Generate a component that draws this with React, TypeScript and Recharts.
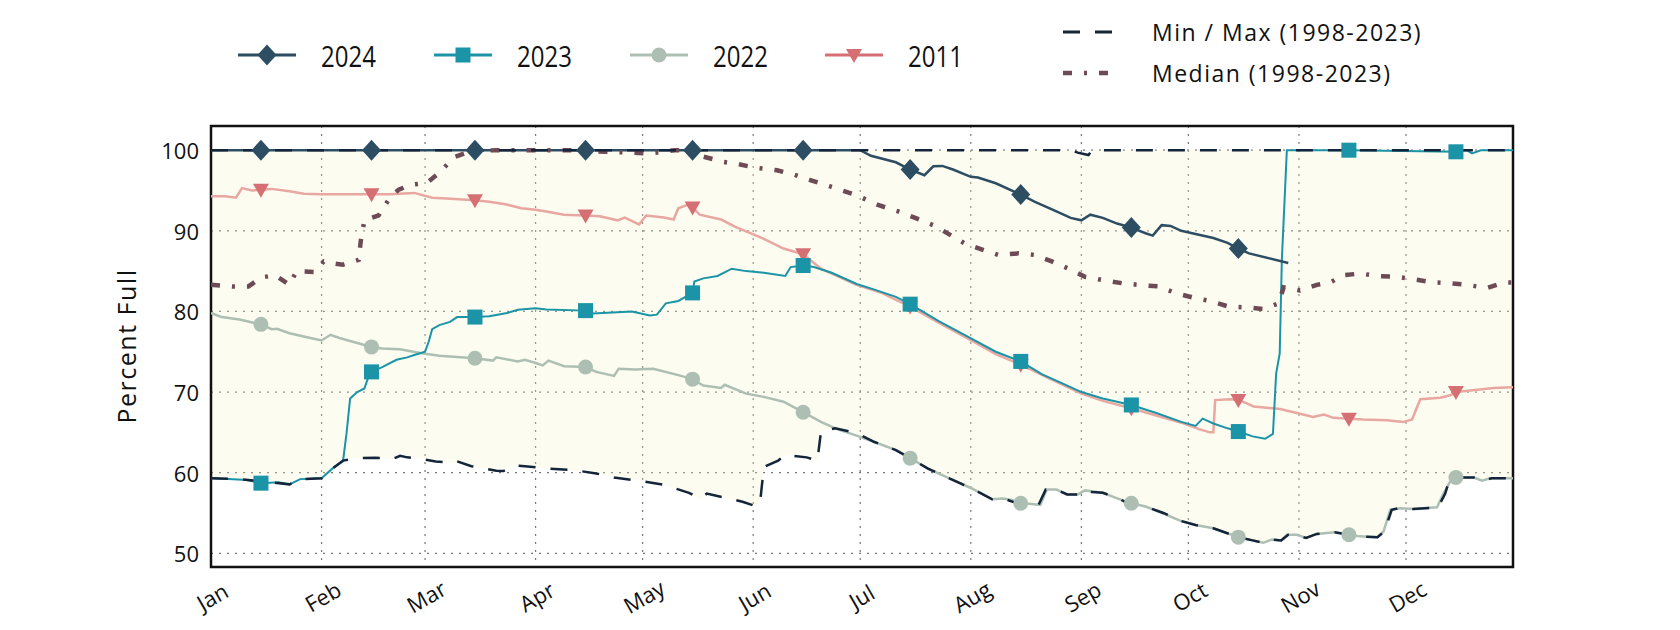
import React from 'react';
import { ComposedChart, Line, Area, XAxis, YAxis, CartesianGrid, ReferenceArea } from 'recharts';

const MONTH_TICKS = [0, 31, 60, 91, 121, 152, 182, 213, 244, 274, 305, 335];
const MONTH_LABELS = ['Jan', 'Feb', 'Mar', 'Apr', 'May', 'Jun', 'Jul', 'Aug', 'Sep', 'Oct', 'Nov', 'Dec'];
const MARKER_DAYS = [14, 45, 74, 105, 135, 166, 196, 227, 258, 288, 319, 349];
const Y_TICKS = [50, 60, 70, 80, 90, 100];

const S2024: [number, number][] = [
  [0, 100], [14, 100], [45, 100], [74, 100], [105, 100], [135, 100], [166, 100], [182, 100], [185, 99.3], [192, 98.5],
  [196, 97.6], [200, 96.9], [202.5, 98.0], [205, 98.05], [208, 97.6], [213, 96.7], [215, 96.6], [220, 95.9], [227, 94.5],
  [231, 93.6], [237, 92.4], [241, 91.6], [244, 91.3], [246.5, 92.0], [250, 91.6], [254, 90.9], [258, 90.4], [262, 89.7],
  [264, 89.4], [266.5, 90.7], [269, 90.6], [272, 90.0], [276, 89.6], [281, 89.1], [285, 88.5], [288, 87.8], [291, 87.2],
  [302, 86.0],
];

const S2023: [number, number][] = [
  [0, 59.3], [5, 59.2], [10, 59.1], [14, 58.7], [19, 58.8], [22, 58.55], [25, 59.2], [31, 59.3], [34, 60.5], [37, 61.4],
  [38, 64.9], [39, 69.2], [41, 70.0], [43, 70.45], [44, 71.7], [45, 72.5], [48, 73.1], [52, 74.0], [55, 74.3], [57, 74.6],
  [60, 75.0], [61, 76.2], [62, 77.8], [64, 78.3], [67, 78.7], [69, 79.3], [74, 79.3], [78, 79.4], [83, 79.8], [86, 80.2],
  [91, 80.4], [94, 80.25], [105, 80.1], [107, 79.75], [118, 80.0], [123, 79.5], [125, 79.6], [127.5, 81.0], [131, 81.3],
  [135, 82.3], [135.5, 83.7], [138, 84.1], [142, 84.4], [146, 85.3], [150, 85.0], [155, 84.8], [161, 84.4], [162.5, 85.5],
  [166, 85.7], [169, 85.5], [174, 84.8], [181, 83.4], [186, 82.7], [192, 81.8], [196, 80.9], [204, 78.8], [212, 76.9],
  [220, 75.0], [227, 73.8], [233, 72.2], [238.5, 71.1], [244, 70.0], [250, 69.2], [258, 68.4], [265, 67.4], [272, 66.3],
  [276, 65.8], [278, 66.7], [281, 66.1], [285, 65.5], [288, 65.1], [292, 64.5], [295.5, 64.2], [297.7, 64.8], [298.6, 72.3],
  [299.6, 74.8], [300.2, 86.4], [301.6, 100], [319, 100], [349, 99.8], [352, 100], [353.5, 99.6], [356, 100], [365, 100],
];

const S2022: [number, number][] = [
  [0, 79.8], [3, 79.3], [8, 79.0], [11, 78.7], [14, 78.4], [17, 77.8], [18.5, 77.85], [22, 77.3], [26, 76.9], [31, 76.4],
  [33.5, 77.1], [36, 76.7], [40, 76.2], [45, 75.6], [48, 75.4], [53, 75.3], [59, 74.8], [64, 74.5], [74, 74.2], [79, 73.9],
  [80, 74.3], [86, 73.8], [88, 74.0], [91, 73.6], [93, 73.3], [94.6, 73.9], [99, 73.2], [105, 73.1], [108, 72.5], [113, 72.0],
  [114.3, 72.9], [119, 72.8], [124, 72.9], [131, 72.1], [135, 71.6], [138, 70.8], [143, 70.5], [144, 70.9], [150, 69.8],
  [155, 69.4], [160.5, 68.8], [166, 67.5], [171, 66.3], [175.5, 65.4], [181, 64.6], [186, 63.8], [192, 62.8], [196, 61.8],
  [201, 60.5], [209, 58.9], [213, 58.1], [219, 56.7], [222, 56.8], [224.5, 56.6], [227, 56.2], [230, 56.1], [232.5, 56.0],
  [234.3, 57.9], [237, 57.9], [240, 57.3], [243, 57.3], [245, 57.8], [250, 57.5], [253.5, 56.9], [258, 56.2], [262, 55.8],
  [266.6, 55.0], [272, 54.0], [276, 53.5], [281, 53.1], [288, 52.0], [292, 51.6], [295, 51.3], [297.4, 51.7], [300, 51.6],
  [301.6, 52.3], [304.4, 52.3], [307, 51.9], [310, 52.4], [315, 52.6], [319, 52.3], [322, 52.1], [327, 52.0], [328.7, 52.7],
  [330.6, 55.4], [333.4, 55.6], [337, 55.5], [343.7, 55.7], [345.5, 57.4], [347.4, 58.9], [349, 59.4], [354, 59.4],
  [356.3, 59.0], [358.6, 59.3], [365, 59.3],
];

const S2011: [number, number][] = [
  [0, 94.3], [4, 94.3], [7, 94.1], [8.7, 95.3], [11.5, 95.0], [14, 95.1], [17, 95.2], [22, 94.9], [26, 94.6], [31, 94.55],
  [45, 94.55], [50, 94.55], [57, 94.7], [62, 94.1], [66, 94.0], [74, 93.8], [78, 93.6], [82.5, 93.3], [87, 92.8], [91, 92.6],
  [94, 92.4], [99, 92.0], [105, 91.9], [109, 91.8], [114, 91.3], [116, 91.65], [120, 90.8], [122, 91.9], [127, 91.65],
  [129.7, 91.4], [131, 92.8], [133.4, 93.2], [135, 92.9], [137, 92.0], [143, 91.4], [147, 90.5], [155, 89.0], [160.5, 87.8],
  [166, 87.1], [171, 85.3], [181, 83.3], [188, 82.3], [196, 80.6], [204, 78.6], [212, 76.7], [220, 74.7], [227, 73.4],
  [235, 71.7], [244, 69.8], [250, 68.9], [258, 68.0], [265, 67.1], [272, 66.2], [277, 65.4], [280, 65.0], [281, 65.0],
  [281.5, 69.0], [285.7, 69.1], [288, 69.0], [290.4, 68.6], [292.3, 68.2], [299.7, 67.9], [304.4, 67.4], [309, 66.9],
  [312, 67.2], [314.7, 66.8], [319, 66.7], [323, 66.6], [329.6, 66.5], [334.3, 66.3], [336.7, 66.6], [339, 69.1],
  [344.6, 69.3], [347.4, 69.6], [349, 70.0], [353, 70.2], [359.6, 70.5], [365, 70.6],
];

const MEDIAN: [number, number][] = [
  [0, 83.3], [6, 83.1], [10.5, 83.1], [14, 84.2], [18, 84.5], [22, 83.3], [24, 85.0], [29, 84.9], [31.6, 86.2], [33.4, 86.0],
  [37, 85.8], [41.4, 86.4], [42, 88.8], [43, 91.3], [47, 91.9], [50, 94.0], [52.6, 95.1], [56, 95.7], [60.5, 95.95],
  [64.3, 97.3], [68, 99.1], [73, 99.9], [80, 100], [100, 100], [123, 99.6], [130, 100], [136, 100], [138, 99.2],
  [143.7, 98.55], [147.4, 98.3], [153, 97.8], [158.7, 97.5], [163.3, 97.0], [168, 96.3], [173.6, 95.5], [181, 94.4],
  [187, 93.2], [192.7, 92.4], [197.4, 91.6], [203, 90.6], [211.4, 88.4], [216, 87.7], [220.8, 87.0], [226.4, 87.2],
  [231, 87.0], [235.7, 86.2], [240.4, 85.3], [245, 84.3], [249.8, 83.9], [255.4, 83.5], [260, 83.3], [265.6, 83.1],
  [270.3, 82.3], [275.4, 81.7], [280, 81.3], [285.3, 80.6], [290.4, 80.5], [295, 80.3], [299.3, 81.0], [300.7, 83.0],
  [305.3, 82.6], [310, 83.3], [313.8, 83.6], [317.5, 84.5], [322.2, 84.7], [326.8, 84.4], [332.4, 84.3], [337, 84.0],
  [342.7, 83.6], [347.4, 83.5], [352, 83.3], [357.7, 82.9], [362.4, 83.6], [365, 83.6],
];

// [day, min, max]
const ENVELOPE: [number, number, number][] = [
  [0, 59.3, 100], [8, 59.2, 100], [17, 58.8, 100], [22, 58.55, 100], [25, 59.2, 100], [31, 59.3, 100], [34, 60.5, 100],
  [37, 61.5, 100], [41, 61.8, 100], [46, 61.85, 100], [51, 61.7, 100], [53, 62.1, 100], [55, 61.9, 100], [59, 61.7, 100],
  [63, 61.4, 100], [68, 61.2, 100], [69, 61.4, 100], [73, 60.8, 100], [80, 60.25, 100], [82, 60.2, 100], [85, 60.9, 100],
  [88, 60.8, 100], [95, 60.5, 100], [102, 60.3, 100], [108, 59.9, 100], [113, 59.4, 100], [120, 59.0, 100],
  [127, 58.5, 100], [134, 57.5, 100], [137, 56.8, 100], [139, 57.4, 100], [144, 56.9, 100], [149, 56.4, 100],
  [153, 55.8, 100], [154, 56.6, 100], [155, 60.7, 100], [159, 61.5, 100], [161, 62.2, 100], [167, 61.9, 100],
  [170, 61.5, 100], [171, 65.1, 100], [175, 65.5, 100], [181, 64.9, 100], [186, 63.8, 100], [192, 62.8, 100],
  [196, 61.8, 100], [201, 60.5, 100], [209, 58.9, 100], [213, 58.1, 100], [219, 56.7, 100], [222, 56.8, 100],
  [226, 56.2, 100], [230, 56.1, 100], [232, 56.0, 100], [234, 57.9, 100], [237, 57.9, 100], [240, 57.3, 100],
  [241, 57.3, 100], [243, 57.3, 99.7], [245, 57.8, 99.5], [246, 57.7, 99.4], [247, 57.6, 100], [250, 57.5, 100],
  [254, 56.9, 100], [257, 56.2, 100], [262, 55.8, 100], [267, 55.0, 100], [272, 54.0, 100], [276, 53.5, 100],
  [281, 53.1, 100], [288, 52.0, 100], [292, 51.6, 100], [295, 51.3, 100], [297, 51.7, 100], [300, 51.6, 100],
  [302, 52.3, 100], [304, 52.3, 100], [307, 51.9, 100], [310, 52.4, 100], [315, 52.6, 100], [319, 52.3, 100],
  [322, 52.1, 100], [327, 52.0, 100], [329, 52.7, 100], [331, 55.4, 100], [333, 55.6, 100], [337, 55.5, 100],
  [344, 55.7, 100], [346, 57.4, 100], [347, 58.9, 100], [349, 59.4, 100], [354, 59.4, 100], [356, 59.0, 100],
  [359, 59.3, 100], [365, 59.3, 100],
];

const C2024 = '#2d4d63';
const C2023 = '#1a94a6';
const C2022 = '#adbfb3';
const C2011_LINE = '#e8a7a0';
const C2011_MARK = '#d66f74';
const CMINMAX = '#14243a';
const CMEDIAN = '#6e4a55';

const toPts = (arr: [number, number][]) => arr.map(([day, v]) => ({ day, v }));
const envPts = ENVELOPE.map(([day, min, max]) => ({ day, min, max, range: [min, max] }));

type Shape = 'diamond' | 'square' | 'circle' | 'tri';

const markerEl = (shape: Shape, color: string, cx: number, cy: number, key?: any) => {
  if (shape === 'diamond') {
    return <path key={key} d={`M${cx},${cy - 10.5} L${cx + 9.5},${cy} L${cx},${cy + 10.5} L${cx - 9.5},${cy} Z`} fill={color} />;
  }
  if (shape === 'square') {
    return <rect key={key} x={cx - 7.5} y={cy - 7.5} width={15} height={15} fill={color} />;
  }
  if (shape === 'circle') {
    return <circle key={key} cx={cx} cy={cy} r={7.5} fill={color} />;
  }
  return <path key={key} d={`M${cx - 8},${cy - 6} L${cx + 8},${cy - 6} L${cx},${cy + 8} Z`} fill={color} />;
};

const makeDot = (shape: Shape, color: string) => (props: any) => {
  const { cx, cy, payload, index } = props;
  if (!payload || !MARKER_DAYS.includes(payload.day) || cx == null || cy == null) {
    return <g key={`n${index}`} />;
  }
  return markerEl(shape, color, cx, cy, `m${index}`);
};

const textFont = "'Open Sans', sans-serif";

const XTick = (props: any) => {
  const { x, y, payload } = props;
  const idx = MONTH_TICKS.indexOf(payload.value);
  return (
    <g transform={`translate(${x + 1},${y + 29})`}>
      <text transform="rotate(-30)" textAnchor="middle" dominantBaseline="central" fontFamily={textFont} fontSize={22} fill="#111">
        {MONTH_LABELS[idx]}
      </text>
    </g>
  );
};

const YTick = (props: any) => {
  const { x, y, payload } = props;
  return (
    <text x={x + 1} y={y} textAnchor="end" dominantBaseline="central" fontFamily={textFont} fontSize={22} fill="#111">
      {payload.value}
    </text>
  );
};

const LEGEND_YEARS: { label: string; color: string; shape: Shape; x: number }[] = [
  { label: '2024', color: C2024, shape: 'diamond', x: 238 },
  { label: '2023', color: C2023, shape: 'square', x: 434 },
  { label: '2022', color: C2022, shape: 'circle', x: 630 },
  { label: '2011', color: C2011_MARK, shape: 'tri', x: 825 },
];

const Overlay = () => (
  <svg width={1680} height={630} style={{ position: 'absolute', left: 0, top: 0, pointerEvents: 'none' }}>
    {LEGEND_YEARS.map((it) => (
      <g key={it.label}>
        <line x1={it.x} x2={it.x + 58} y1={55} y2={55} stroke={it.color} strokeWidth={3} />
        {markerEl(it.shape, it.color, it.x + 29, 55)}
        <text
          transform={`translate(${it.x + 83},55) scale(0.8,1)`}
          dominantBaseline="central"
          fontFamily={textFont}
          fontSize={30}
          fill="#111"
        >
          {it.label}
        </text>
      </g>
    ))}
    <line x1={1063} x2={1117} y1={32} y2={32} stroke={CMINMAX} strokeWidth={3} strokeDasharray="17 15" />
    <text x={1152} y={32} dominantBaseline="central" fontFamily={textFont} fontSize={23} letterSpacing={1.5} fill="#111">
      Min / Max (1998-2023)
    </text>
    <line x1={1063} x2={1117} y1={73} y2={73} stroke={CMEDIAN} strokeWidth={4.5} strokeDasharray="9 12 3 12" />
    <text x={1152} y={73} dominantBaseline="central" fontFamily={textFont} fontSize={23} letterSpacing={1.5} fill="#111">
      Median (1998-2023)
    </text>
    <text
      transform="translate(126,346) rotate(-90)"
      textAnchor="middle"
      dominantBaseline="central"
      fontFamily={textFont}
      fontSize={25}
      letterSpacing={1.5}
      fill="#111"
    >
      Percent Full
    </text>
  </svg>
);

export default function App() {
  const y0 = 48.3;
  const y1 = 103;
  return (
    <div style={{ position: 'absolute', left: 0, top: 0, width: 1680, height: 630, background: '#fff' }}>
      <ComposedChart width={1680} height={630} margin={{ top: 126, right: 167, bottom: 3, left: 151 }}>
        <XAxis
          type="number"
          dataKey="day"
          domain={[0, 365]}
          ticks={MONTH_TICKS}
          tick={<XTick />}
          tickLine={false}
          axisLine={false}
          height={60}
          tickSize={0}
          tickMargin={0}
          allowDataOverflow
        />
        <YAxis
          type="number"
          domain={[y0, y1]}
          ticks={Y_TICKS}
          tick={<YTick />}
          tickLine={false}
          axisLine={false}
          width={60}
          tickSize={8}
          tickMargin={5}
          allowDataOverflow
        />
        <Area data={envPts} dataKey="range" type="linear" stroke="none" fill="#f3f3c6" fillOpacity={0.25} isAnimationActive={false} />
        <CartesianGrid stroke="#777" strokeDasharray="2 6" strokeWidth={1.2} />
        <Line data={toPts(S2011)} dataKey="v" type="linear" stroke={C2011_LINE} strokeWidth={2.5} dot={false} isAnimationActive={false} />
        <Line data={toPts(S2022)} dataKey="v" type="linear" stroke={C2022} strokeWidth={2.5} dot={false} isAnimationActive={false} />
        <Line data={toPts(S2023)} dataKey="v" type="linear" stroke={C2023} strokeWidth={2} dot={false} isAnimationActive={false} />
        <Line data={toPts(S2024)} dataKey="v" type="linear" stroke={C2024} strokeWidth={2.5} dot={false} isAnimationActive={false} />
        <Line data={toPts(MEDIAN)} dataKey="v" type="linear" stroke={CMEDIAN} strokeWidth={4.5} strokeDasharray="9 12 3 12" dot={false} isAnimationActive={false} />
        <Line data={envPts} dataKey="min" type="linear" stroke={CMINMAX} strokeWidth={2.5} strokeDasharray="17 15" dot={false} isAnimationActive={false} />
        <Line data={envPts} dataKey="max" type="linear" stroke={CMINMAX} strokeWidth={2.5} strokeDasharray="17 15" dot={false} isAnimationActive={false} />
        <Line data={toPts(S2011)} dataKey="v" type="linear" stroke="none" dot={makeDot('tri', C2011_MARK)} activeDot={false} isAnimationActive={false} />
        <Line data={toPts(S2022)} dataKey="v" type="linear" stroke="none" dot={makeDot('circle', C2022)} activeDot={false} isAnimationActive={false} />
        <Line data={toPts(S2023)} dataKey="v" type="linear" stroke="none" dot={makeDot('square', C2023)} activeDot={false} isAnimationActive={false} />
        <Line data={toPts(S2024)} dataKey="v" type="linear" stroke="none" dot={makeDot('diamond', C2024)} activeDot={false} isAnimationActive={false} />
        <ReferenceArea x1={0} x2={365} y1={y0} y2={y1} fill="none" stroke="#111" strokeWidth={2.5} ifOverflow="visible" />
      </ComposedChart>
      <Overlay />
    </div>
  );
}
